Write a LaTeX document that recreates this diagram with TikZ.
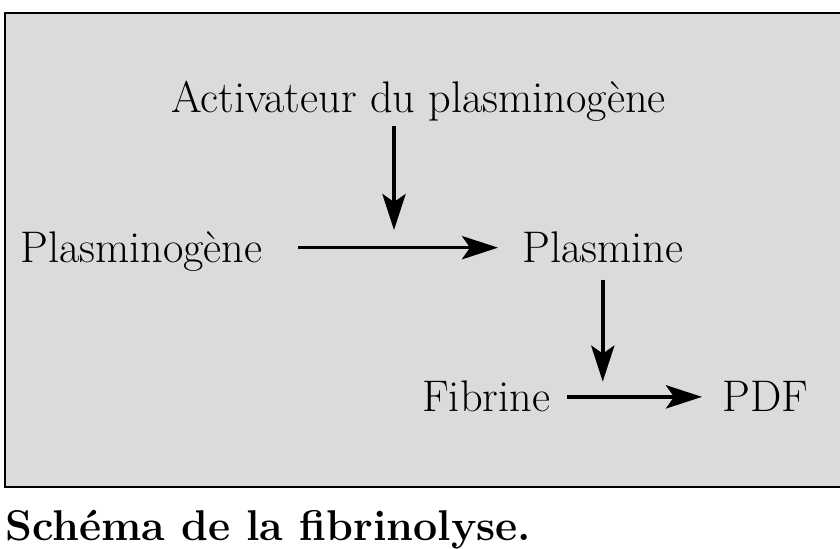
\documentclass[tikz,border=0pt]{standalone}
\usepackage{tikz}
\usetikzlibrary{arrows.meta,calc}
\definecolor{paper}{gray}{0.86}

\begin{document}
\begin{tikzpicture}[>={Stealth[length=0.9cm,width=0.58cm,inset=0.2cm]},
  lbl/.style={font=\fontsize{31.5}{36}\selectfont,inner sep=0pt,text height=27pt,text depth=6.6pt},
  flow/.style={->,line width=2.6pt}]
  \clip (0,0) rectangle (21,-13.7);
  \draw[line width=1.4pt,fill=paper] (0.125,-0.325) rectangle (21.5,-12.175);
  \node[lbl,anchor=base] (act) at (10.46,-2.8) {Activateur du plasminogène};
  \node[lbl,anchor=base west] (pgen) at (0.5,-6.55) {Plasminogène};
  \node[lbl,anchor=base west] (plas) at (13.05,-6.55) {Plasmine};
  \node[lbl,anchor=base west] (fib) at (10.55,-10.28) {Fibrine};
  \node[lbl,anchor=base west] (pdf) at (18.05,-10.28) {PDF};
  \coordinate (j1) at (9.85,-5.75);
  \coordinate (j2) at ($(plas.south)+(0,-2.75)$);
  \draw[flow,shorten <=0.875cm,shorten >=0.6cm] (pgen.east) -- (plas.west);
  \draw[flow,shorten <=0.12cm] (act.south -| j1) -- (j1);
  \draw[flow,shorten <=0.2cm] (plas.south) -- (j2);
  \draw[flow,shorten <=0.43cm,shorten >=0.5cm] (fib.east) -- (pdf.west);
  \node[font=\fontsize{30.6}{36}\selectfont\bfseries,anchor=base west,inner sep=0pt] (cap) at (0.125,-13.5) {Schéma de la fibrinolyse.};
\end{tikzpicture}
\end{document}
